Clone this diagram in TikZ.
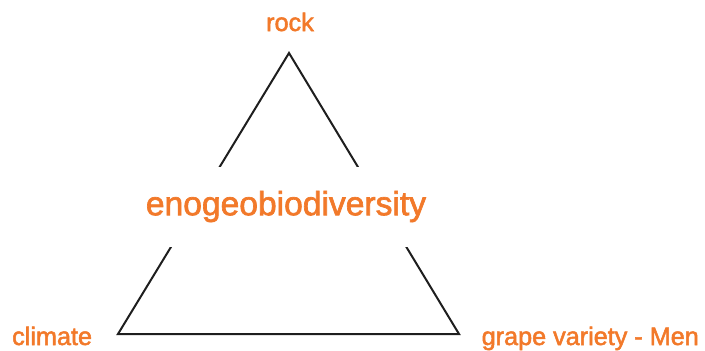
\documentclass[tikz,border=0pt]{standalone}
\usepackage{fontspec}
\setmainfont{Liberation Sans}
\newfontfamily\medfont{Liberation Sans}[FakeBold=2]
\usepackage{xcolor}
\usetikzlibrary{positioning}
\definecolor{wineorange}{RGB}{242,121,42}
\definecolor{edgegray}{RGB}{30,30,30}

\begin{document}
\begin{tikzpicture}[x=1pt, y=-1pt,
  every node/.style={inner sep=0pt},
  lbl/.style={font=\medfont\fontsize{25.2}{29}\selectfont, color=wineorange},
  hub/.style={font=\medfont\fontsize{33.6}{40}\selectfont, color=wineorange,
              fill=white, minimum height=80pt, inner xsep=4pt},
  side/.style={draw=edgegray, line width=2pt, line join=miter}]
\useasboundingbox (0,0) rectangle (705,351);
\coordinate (top) at (289,53);
\coordinate (left) at (118,334);
\coordinate (right) at (459,334);
\draw[side] (top) -- (left) -- (right) -- cycle;
\node[hub] (center) at (286,206.5) {enogeobiodiversity};
\node[lbl, anchor=base] (rock) at (290,31) {rock};
\node[lbl, anchor=base west] (climate) at (12,345) {climate};
\node[lbl, anchor=base east] (variety) at (699,345) {grape variety - Men};
\end{tikzpicture}
\end{document}
